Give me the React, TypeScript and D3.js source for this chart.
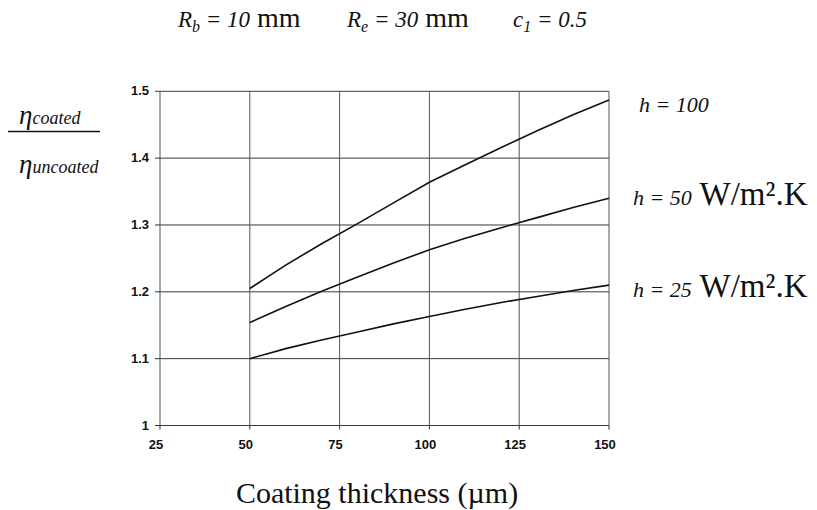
import React from "react";
import * as d3 from "d3";

const thickness = [50, 60, 70, 80, 90, 100, 110, 120, 130, 140, 150];
const h100 = [1.205, 1.24, 1.272, 1.302, 1.333, 1.364, 1.39, 1.416, 1.441, 1.465, 1.487];
const h50 = [1.154, 1.178, 1.201, 1.222, 1.243, 1.263, 1.28, 1.296, 1.311, 1.326, 1.34];
const h25 = [1.1, 1.115, 1.128, 1.14, 1.152, 1.163, 1.174, 1.184, 1.193, 1.202, 1.21];
const xTicks = [25, 50, 75, 100, 125, 150];
const yTicks = [1, 1.1, 1.2, 1.3, 1.4, 1.5];
const yTickLabels = ["1", "1.1", "1.2", "1.3", "1.4", "1.5"];

const W = 817;
const H = 510;
const serif = "'Liberation Serif', 'Times New Roman', serif";
const sans = "'Liberation Sans', Arial, sans-serif";

export default function App() {
  const x = d3.scaleLinear().domain([25, 150]).range([160, 609]);
  const y = d3.scaleLinear().domain([1, 1.5]).range([425.5, 91.3]);
  const line = d3
    .line<[number, number]>()
    .x((d) => x(d[0]))
    .y((d) => y(d[1]));
  const series = [h100, h50, h25];

  return (
    <svg
      width={W}
      height={H}
      style={{ position: "absolute", left: 0, top: 0, background: "#fff" }}
    >
      <rect x={0} y={0} width={W} height={H} fill="#fff" />
      {/* title */}
      <text y={27} fontFamily={serif} fontSize={23} fill="#111">
        <tspan x={178} fontStyle="italic">R</tspan>
        <tspan fontStyle="italic" fontSize={16} dy={5}>b</tspan>
        <tspan fontStyle="italic" dy={-5}> = 10</tspan>
        <tspan fontSize={28}> mm</tspan>
        <tspan x={347} fontStyle="italic">R</tspan>
        <tspan fontStyle="italic" fontSize={16} dy={5}>e</tspan>
        <tspan fontStyle="italic" dy={-5}> = 30</tspan>
        <tspan fontSize={28}> mm</tspan>
        <tspan x={513} fontStyle="italic">c</tspan>
        <tspan fontStyle="italic" fontSize={16} dy={5}>1</tspan>
        <tspan fontStyle="italic" dy={-5}> = 0.5</tspan>
      </text>

      {/* grid */}
      {yTicks.map((t) => (
        <line
          key={"gy" + t}
          x1={x(25)}
          x2={x(150)}
          y1={y(t)}
          y2={y(t)}
          stroke="#3a3a3a"
          strokeWidth={1}
        />
      ))}
      {xTicks.map((t) => (
        <line
          key={"gx" + t}
          x1={x(t)}
          x2={x(t)}
          y1={y(1)}
          y2={y(1.5)}
          stroke="#555"
          strokeWidth={1}
        />
      ))}
      {/* tick marks */}
      {yTicks.map((t) => (
        <line key={"ty" + t} x1={x(25) - 5} x2={x(25)} y1={y(t)} y2={y(t)} stroke="#333" />
      ))}
      {xTicks.map((t) => (
        <line key={"tx" + t} x1={x(t)} x2={x(t)} y1={y(1)} y2={y(1) + 4} stroke="#333" />
      ))}
      {/* tick labels */}
      {yTicks.map((t, i) => (
        <text
          key={"ly" + t}
          x={x(25) - 11}
          y={y(t) + 4}
          textAnchor="end"
          fontFamily={sans}
          fontWeight="bold"
          fontSize={13}
          fill="#111"
        >
          {yTickLabels[i]}
        </text>
      ))}
      {xTicks.map((t) => (
        <text
          key={"lx" + t}
          x={x(t) - 4}
          y={449}
          textAnchor="middle"
          fontFamily={sans}
          fontWeight="bold"
          fontSize={13}
          fill="#111"
        >
          {t}
        </text>
      ))}

      {/* curves */}
      {series.map((s, i) => (
        <path
          key={"s" + i}
          d={line(thickness.map((t, j) => [t, s[j]]) as [number, number][]) || ""}
          fill="none"
          stroke="#111"
          strokeWidth={1.6}
        />
      ))}

      {/* y label */}
      <text y={124} fontFamily={serif} fill="#111" fontStyle="italic">
        <tspan x={19} fontSize={27}>η</tspan>
        <tspan fontSize={18}>coated</tspan>
      </text>
      <line x1={8} x2={100} y1={131.5} y2={131.5} stroke="#111" strokeWidth={1.6} />
      <text y={173} fontFamily={serif} fill="#111" fontStyle="italic">
        <tspan x={19} fontSize={27}>η</tspan>
        <tspan fontSize={18}>uncoated</tspan>
      </text>

      {/* right labels */}
      <text x={639} y={112} fontFamily={serif} fontSize={22} fontStyle="italic" fill="#111">
        h = 100
      </text>
      <text y={205} fontFamily={serif} fill="#111">
        <tspan x={633} fontSize={22} fontStyle="italic">h = 50</tspan>
        <tspan fontSize={33}>{" W/m².K"}</tspan>
      </text>
      <text y={297} fontFamily={serif} fill="#111">
        <tspan x={633} fontSize={22} fontStyle="italic">h = 25</tspan>
        <tspan fontSize={33}>{" W/m².K"}</tspan>
      </text>

      {/* x label */}
      <text x={377} y={503} textAnchor="middle" fontFamily={serif} fontSize={30} fill="#111">
        Coating thickness (µm)
      </text>
    </svg>
  );
}
